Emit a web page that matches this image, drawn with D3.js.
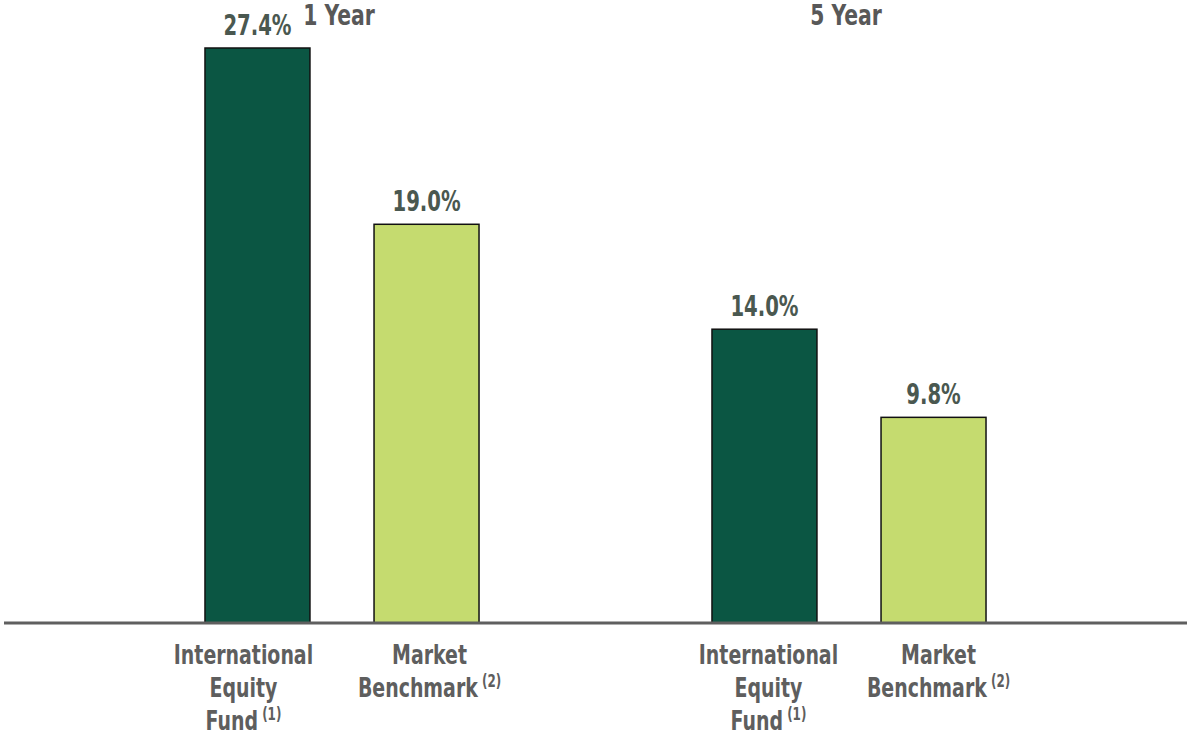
<!DOCTYPE html>
<html>
<head>
    <meta charset="utf-8">
    <title>Annualized Returns</title>
    <script src="https://d3js.org/d3.v7.min.js"></script>
    <style>
        body { margin: 0; background: #fff; }
        text { font-family: "Liberation Sans Narrow", "DejaVu Sans Condensed", "Arial Narrow", sans-serif; font-weight: bold; }
    </style>
</head>
<body>
<div id="chart"></div>
<script type="text/javascript">
    // periods, series and returns (%)
    let periods = ["1 Year", "5 Year"];
    let series = ["fund", "benchmark"];
    let fundReturns = [27.4, 14.0];
    let benchReturns = [19.0, 9.8];
    // category labels: lines of text plus a footnote marker on the last line
    let seriesLines = {
        fund: ["International", "Equity", "Fund"],
        benchmark: ["Market", "Benchmark"]
    };
    let seriesNotes = {fund: "(1)", benchmark: "(2)"};
    let colors = {fund: "#0b5643", benchmark: "#c5db6f"};

    let width = 1187, height = 735;
    let baseline = 623;
    let squeeze = 0.78; // condensed look for the bold labels
    // small nudges of the category label blocks, by period index
    let labelNudge = {fund: [-14, 4], benchmark: [3, 5]};

    let data = [];
    periods.forEach(function(p, i) {
        data.push({period: p, key: "fund", value: fundReturns[i]});
        data.push({period: p, key: "benchmark", value: benchReturns[i]});
    });

    let svg = d3.select("#chart")
        .append("svg")
            .attr("width", width)
            .attr("height", height);

    let x0 = d3.scaleBand()
        .domain(periods)
        .range([88.5, 1102.5]);

    let x1 = d3.scaleBand()
        .domain(series)
        .range([0, x0.bandwidth()])
        .paddingInner(0.379)
        .paddingOuter(0.689);

    let y = d3.scaleLinear()
        .domain([0, 27.4])
        .range([baseline, 48]);

    function place(x, yy) {
        return "translate(" + x + "," + yy + ") scale(" + squeeze + ",1)";
    }

    let groups = svg.selectAll("g.period")
        .data(periods)
        .enter()
        .append("g")
            .attr("class", "period")
            .attr("transform", function(d) { return "translate(" + x0(d) + ",0)"; });

    // period titles
    groups.append("text")
        .attr("transform", place(x0.bandwidth() / 2 - 3, 25))
        .attr("text-anchor", "middle")
        .attr("font-size", "29px")
        .attr("fill", "#585858")
        .text(function(d) { return d; });

    groups.selectAll("rect")
        .data(function(p) { return data.filter(function(d) { return d.period == p; }); })
        .enter()
        .append("rect")
            .attr("x", function(d) { return x1(d.key); })
            .attr("y", function(d) { return y(d.value); })
            .attr("width", x1.bandwidth())
            .attr("height", function(d) { return baseline - y(d.value); })
            .attr("fill", function(d) { return colors[d.key]; })
            .attr("stroke", "#111")
            .attr("stroke-width", 1.5);

    // value labels above the bars
    groups.selectAll("text.value")
        .data(function(p) { return data.filter(function(d) { return d.period == p; }); })
        .enter()
        .append("text")
            .attr("class", "value")
            .attr("transform", function(d) {
                return place(x1(d.key) + x1.bandwidth() / 2, y(d.value) - 13);
            })
            .attr("text-anchor", "middle")
            .attr("font-size", "28px")
            .attr("fill", "#4a5850")
            .text(function(d) { return d.value.toFixed(1) + "%"; });

    // category labels under the axis
    groups.each(function(p, pi) {
        d3.select(this).selectAll("text.cat")
            .data(series)
            .enter()
            .append("text")
                .attr("class", "cat")
                .attr("transform", function(k) {
                    return place(x1(k) + x1.bandwidth() / 2 + labelNudge[k][pi], 664);
                })
                .attr("text-anchor", "middle")
                .attr("font-size", "27px")
                .attr("fill", "#5e5e5e")
                .each(function(k) {
                    let t = d3.select(this);
                    let lines = seriesLines[k];
                    lines.forEach(function(line, i) {
                        t.append("tspan")
                            .attr("x", 0)
                            .attr("y", i * 33)
                            .text(line);
                        if (i == lines.length - 1) {
                            t.append("tspan")
                                .attr("font-size", "17px")
                                .attr("dy", "-10")
                                .text("\u00a0" + seriesNotes[k]);
                        }
                    });
                });
    });

    // baseline axis
    svg.append("line")
        .attr("x1", 4)
        .attr("x2", width)
        .attr("y1", baseline)
        .attr("y2", baseline)
        .attr("stroke", "#5f5f5f")
        .attr("stroke-width", 3);
</script>
</body>
</html>
